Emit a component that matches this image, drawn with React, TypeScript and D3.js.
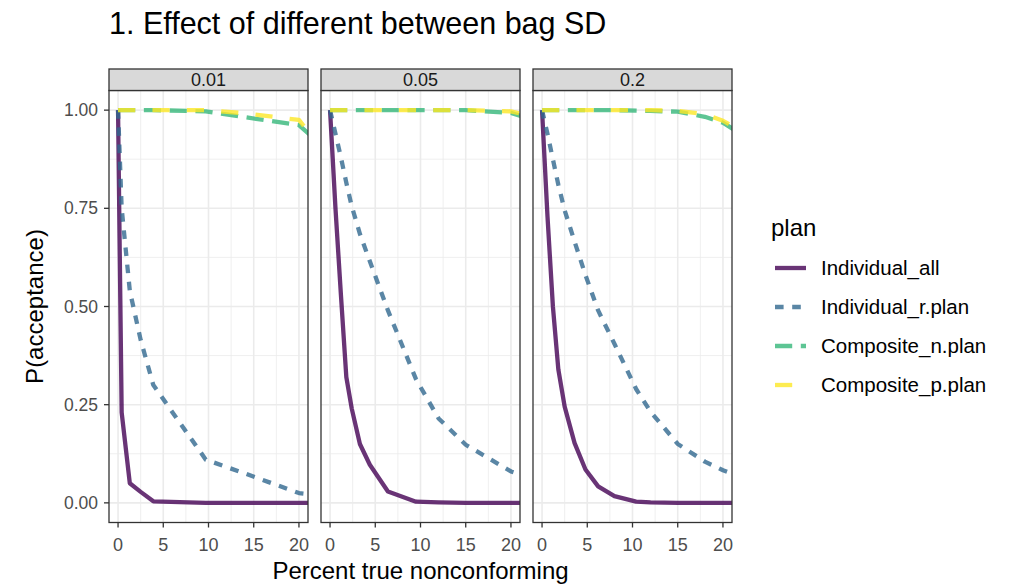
import React from 'react';
import * as d3 from 'd3';

// facet levels (between bag SD) and plans
const sdLevels = ['0.01', '0.05', '0.2'];
const plans = ['Individual_all', 'Individual_r.plan', 'Composite_n.plan', 'Composite_p.plan'];

// SD = 0.01
const pct01 = [0, 0.4, 1.3, 2.5, 3.9, 9.7, 14, 20, 24];
const indAll01 = [1, 0.23, 0.05, 0.028, 0.004, 0, 0, 0, 0];
const indR01 = [1, 0.75, 0.54, 0.415, 0.3, 0.11, 0.075, 0.025, 0.015];
const compN01 = [1, 1, 1, 1, 1, 0.997, 0.982, 0.962, 0.88];
const compP01 = [1, 1, 1, 1, 1, 1, 0.992, 0.975, 0.86];

// SD = 0.05
const pct05 = [0, 0.6, 1.2, 1.8, 2.4, 3.3, 4.4, 6.4, 9.5, 12, 15, 20, 24];
const indAll05 = [1, 0.75, 0.53, 0.32, 0.24, 0.15, 0.097, 0.029, 0.003, 0.001, 0, 0, 0];
const indR05 = [1, 0.94, 0.88, 0.815, 0.755, 0.685, 0.615, 0.49, 0.315, 0.215, 0.148, 0.08, 0.05];
const compN05 = [1, 1, 1, 1, 1, 1, 1, 1, 1, 1, 1, 0.993, 0.965];
const compP05 = [1, 1, 1, 1, 1, 1, 1, 1, 1, 1, 1, 0.997, 0.975];

// SD = 0.2
const pct2 = [0, 0.6, 1.2, 1.8, 2.5, 3.6, 4.8, 6.2, 8, 10.4, 12, 15, 18, 20, 24];
const indAll2 = [1, 0.73, 0.5, 0.34, 0.245, 0.152, 0.085, 0.042, 0.017, 0.003, 0.001, 0, 0, 0, 0];
const indR2 = [1, 0.94, 0.875, 0.81, 0.745, 0.665, 0.58, 0.49, 0.405, 0.29, 0.232, 0.15, 0.105, 0.083, 0.05];
const compN2 = [1, 1, 1, 1, 1, 1, 1, 1, 1, 0.999, 0.998, 0.996, 0.983, 0.968, 0.91];
const compP2 = [1, 1, 1, 1, 1, 1, 1, 1, 1, 1, 1, 0.998, 0.99, 0.973, 0.92];

const xTicks = [0, 5, 10, 15, 20];
const xMinor = [2.5, 7.5, 12.5, 17.5];
const yTicks = [0, 0.25, 0.5, 0.75, 1];
const yMinor = [0.125, 0.375, 0.625, 0.875];

const panelData = [
  { x: pct01, ys: [indAll01, indR01, compN01, compP01] },
  { x: pct05, ys: [indAll05, indR05, compN05, compP05] },
  { x: pct2, ys: [indAll2, indR2, compN2, compP2] },
];

const colors = ['#440154', '#31688E', '#35B779', '#FDE725'];
const lw = 4.3;
const dashes = ['', `${2 * lw} ${2 * lw}`, `${4 * lw} ${2 * lw}`, `${4 * lw} ${4 * lw}`];

const font = '"Liberation Sans", Arial, sans-serif';

export default function App() {
  const W = 1017;
  const H = 586;
  const panelW = 199;
  const gap = 13;
  const left0 = 109;
  const top = 90.5;
  const bottom = 522.5;
  const stripH = 21.5;

  const y = d3.scaleLinear().domain([-0.05, 1.05]).range([bottom, top]);

  const panels = sdLevels.map((lvl, i) => {
    const x0 = left0 + i * (panelW + gap);
    const x = d3.scaleLinear().domain([-1, 21]).range([x0, x0 + panelW]);
    const pd = panelData[i];
    const line = d3
      .line<number>()
      .x((_, j) => x(pd.x[j]))
      .y((v) => y(v));
    return (
      <g key={lvl}>
        <defs>
          <clipPath id={'clip' + i}>
            <rect x={x0} y={top} width={panelW} height={bottom - top} />
          </clipPath>
        </defs>
        <rect x={x0} y={top} width={panelW} height={bottom - top} fill='#fff' />
        {yMinor.map((t) => (
          <line key={'ym' + t} x1={x0} x2={x0 + panelW} y1={y(t)} y2={y(t)} stroke='#ebebeb' strokeWidth={0.8} />
        ))}
        {xMinor.map((t) => (
          <line key={'xm' + t} x1={x(t)} x2={x(t)} y1={top} y2={bottom} stroke='#ebebeb' strokeWidth={0.8} />
        ))}
        {yTicks.map((t) => (
          <line key={'yg' + t} x1={x0} x2={x0 + panelW} y1={y(t)} y2={y(t)} stroke='#ebebeb' strokeWidth={1.6} />
        ))}
        {xTicks.map((t) => (
          <line key={'xg' + t} x1={x(t)} x2={x(t)} y1={top} y2={bottom} stroke='#ebebeb' strokeWidth={1.6} />
        ))}
        <g clipPath={`url(#clip${i})`}>
          {pd.ys.map((vals, k) => (
            <path
              key={plans[k]}
              d={line(vals) || ''}
              fill='none'
              stroke={colors[k]}
              strokeOpacity={0.8}
              strokeWidth={lw}
              strokeDasharray={dashes[k]}
              strokeLinejoin='round'
            />
          ))}
        </g>
        <rect x={x0} y={top} width={panelW} height={bottom - top} fill='none' stroke='#333' strokeWidth={1.3} />
        {/* strip */}
        <rect x={x0} y={top - stripH} width={panelW} height={stripH} fill='#d9d9d9' stroke='#333' strokeWidth={1.3} />
        <text x={x0 + panelW / 2} y={top - 4.5} textAnchor='middle' fontSize={18} fill='#1a1a1a' fontFamily={font}>
          {lvl}
        </text>
        {/* x axis */}
        {xTicks.map((t) => (
          <g key={'xt' + t}>
            <line x1={x(t)} x2={x(t)} y1={bottom} y2={bottom + 5} stroke='#333' strokeWidth={1.3} />
            <text x={x(t)} y={bottom + 28} textAnchor='middle' fontSize={18} fill='#4d4d4d' fontFamily={font}>
              {t}
            </text>
          </g>
        ))}
      </g>
    );
  });

  const legendX = 775;
  const legendRows = [268, 307, 346, 385];

  return (
    <svg
      width={W}
      height={H}
      style={{ position: 'absolute', left: 0, top: 0, background: '#fff' }}
      fontFamily={font}
    >
      <rect width={W} height={H} fill='#fff' />
      <text x={109} y={34} fontSize={30.5} fill='#000'>
        1. Effect of different between bag SD
      </text>
      {panels}
      {/* y axis on first panel */}
      {yTicks.map((t) => (
        <g key={'yt' + t}>
          <line x1={left0 - 5} x2={left0} y1={y(t)} y2={y(t)} stroke='#333' strokeWidth={1.3} />
          <text x={left0 - 11} y={y(t)} dy='0.35em' textAnchor='end' fontSize={17.5} fill='#4d4d4d'>
            {t.toFixed(2)}
          </text>
        </g>
      ))}
      <text
        transform={`translate(43, ${(top + bottom) / 2}) rotate(-90)`}
        textAnchor='middle'
        fontSize={24}
        fill='#000'
      >
        P(acceptance)
      </text>
      <text x={left0 + (3 * panelW + 2 * gap) / 2} y={579} textAnchor='middle' fontSize={24} fill='#000'>
        Percent true nonconforming
      </text>
      {/* legend */}
      <text x={771} y={236} fontSize={24} fill='#000'>
        plan
      </text>
      {plans.map((p, k) => (
        <g key={p}>
          <line
            x1={legendX}
            x2={legendX + 31}
            y1={legendRows[k]}
            y2={legendRows[k]}
            stroke={colors[k]}
            strokeOpacity={0.8}
            strokeWidth={lw}
            strokeDasharray={dashes[k]}
          />
          <text x={821} y={legendRows[k]} dy='0.35em' fontSize={20.5} fill='#000'>
            {p}
          </text>
        </g>
      ))}
    </svg>
  );
}
